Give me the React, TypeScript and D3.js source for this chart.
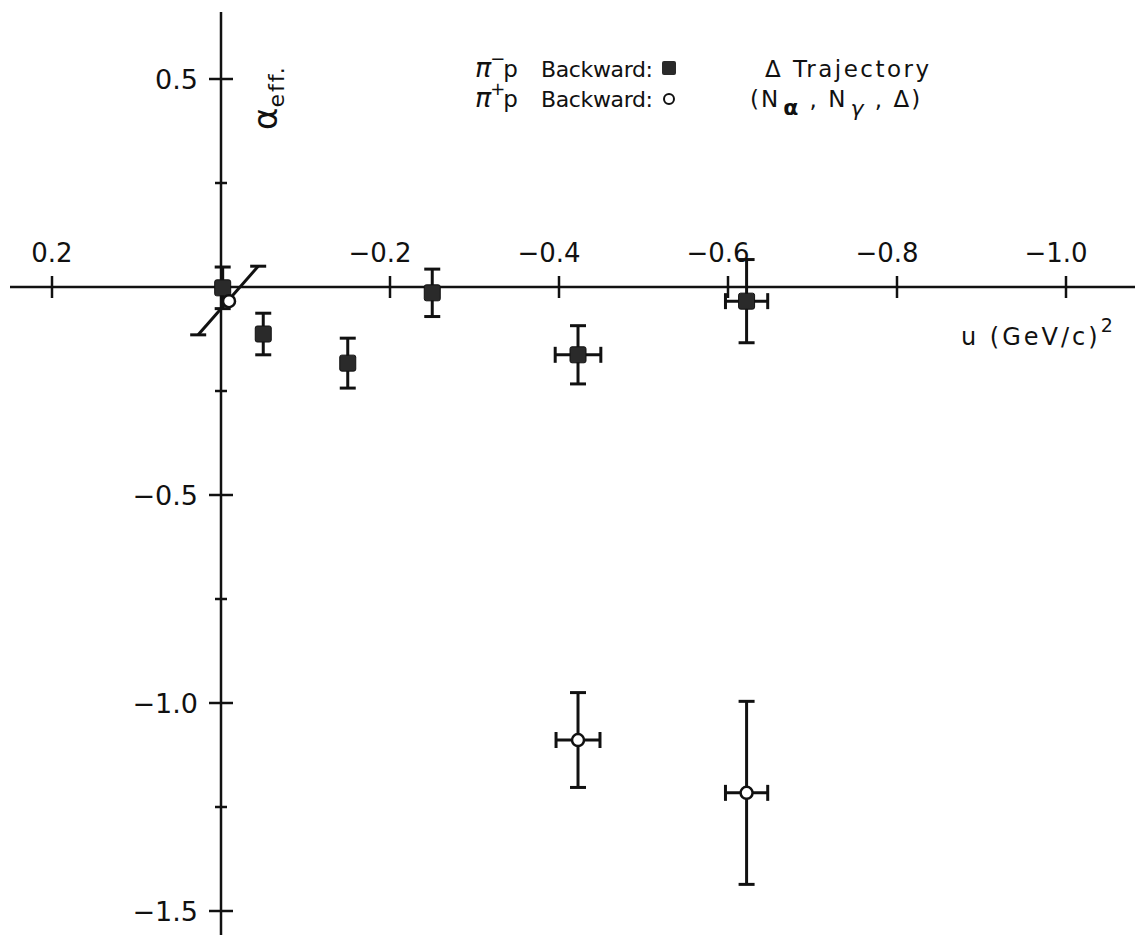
import { useEffect, useRef } from 'react'
import * as d3 from 'd3'

// u (GeV/c)^2 axis ticks and alpha_eff ticks
const uTicks = [0.2, -0.2, -0.4, -0.6, -0.8, -1.0]
const uTickLabels = ['0.2', '−0.2', '−0.4', '−0.6', '−0.8', '−1.0']
const alphaMajor = [0.5, -0.5, -1.0, -1.5]
const alphaMajorLabels = ['0.5', '−0.5', '−1.0', '−1.5']
const alphaMinor = [0.25, -0.25, -0.75, -1.25]

// pi- p backward (filled squares)
const piMinusU = [-0.002, -0.05, -0.15, -0.25, -0.4225, -0.622]
const piMinusAlpha = [-0.002, -0.113, -0.183, -0.014, -0.163, -0.034]
const piMinusErr = [0.05, 0.05, 0.06, 0.057, 0.07, 0.1]
const piMinusUErr = [0, 0, 0, 0, 0.027, 0.025]

// pi+ p backward (open circles)
const piPlusU = [-0.0095, -0.4225, -0.622]
const piPlusAlpha = [-0.034, -1.089, -1.216]
const piPlusErr = [0, 0.114, 0.22]
const piPlusUErr = [0, 0.026, 0.025]

// Delta trajectory segment
const deltaU = [0.027, -0.044]
const deltaAlpha = [-0.115, 0.05]

const FONT = "'DejaVu Sans', sans-serif"

export default function App() {
  const ref = useRef<SVGSVGElement | null>(null)

  useEffect(() => {
    if (!ref.current) return
    const width = 1135
    const svg = d3.select(ref.current)
    svg.selectAll('*').remove()

    const x = d3.scaleLinear().domain([0, -1]).range([221, 1066])
    const y = d3.scaleLinear().domain([0, -1]).range([287, 703])
    const ink = '#111'

    // axes
    svg.append('line').attr('x1', 10).attr('x2', width).attr('y1', y(0)).attr('y2', y(0))
      .attr('stroke', ink).attr('stroke-width', 2.5)
    svg.append('line').attr('x1', x(0)).attr('x2', x(0)).attr('y1', 12).attr('y2', 935)
      .attr('stroke', ink).attr('stroke-width', 2.5)

    // x ticks
    svg.append('g').selectAll('line').data(uTicks).join('line')
      .attr('x1', (d) => x(d)).attr('x2', (d) => x(d))
      .attr('y1', y(0) - 11).attr('y2', y(0) + 11)
      .attr('stroke', ink).attr('stroke-width', 2.5)
    svg.append('g').selectAll('text').data(uTicks).join('text')
      .attr('x', (d) => x(d) + (d < 0 ? -10 : 0))
      .attr('y', y(0) - 25)
      .attr('text-anchor', 'middle')
      .style('font-family', FONT).style('font-size', '26px').style('fill', ink)
      .text((d, i) => uTickLabels[i])

    // y ticks
    svg.append('g').selectAll('line').data(alphaMajor).join('line')
      .attr('x1', x(0) - 12).attr('x2', x(0) + 12)
      .attr('y1', (d) => y(d)).attr('y2', (d) => y(d))
      .attr('stroke', ink).attr('stroke-width', 2.5)
    svg.append('g').selectAll('line').data(alphaMinor).join('line')
      .attr('x1', x(0) - 6).attr('x2', x(0) + 6)
      .attr('y1', (d) => y(d)).attr('y2', (d) => y(d))
      .attr('stroke', ink).attr('stroke-width', 2.5)
    svg.append('g').selectAll('text').data(alphaMajor).join('text')
      .attr('x', x(0) - 23)
      .attr('y', (d) => y(d) + 10)
      .attr('text-anchor', 'end')
      .style('font-family', FONT).style('font-size', '27px').style('fill', ink)
      .text((d, i) => alphaMajorLabels[i])

    // axis titles
    const yt = svg.append('text')
      .attr('transform', 'translate(277,130) rotate(-90)')
      .style('font-family', FONT).style('fill', ink)
    yt.append('tspan').style('font-size', '34px').text('α')
    yt.append('tspan').attr('dy', 7).style('font-size', '22px').attr('letter-spacing', 2).text('eff.')

    const xt = svg.append('text').attr('x', 961).attr('y', 345)
      .style('font-family', FONT).style('font-size', '24px').style('fill', ink)
      .attr('letter-spacing', 3)
    xt.append('tspan').text('u (GeV/c)')
    xt.append('tspan').attr('dy', -13).style('font-size', '19px').text('2')

    const line = d3.line<number>().x((d) => x(deltaU[d])).y((d) => y(deltaAlpha[d]))
    svg.append('path').attr('d', line([0, 1])).attr('fill', 'none')
      .attr('stroke', ink).attr('stroke-width', 3)
    svg.append('g').selectAll('line').data([0, 1]).join('line')
      .attr('x1', (d) => x(deltaU[d]) - 8).attr('x2', (d) => x(deltaU[d]) + 8)
      .attr('y1', (d) => y(deltaAlpha[d])).attr('y2', (d) => y(deltaAlpha[d]))
      .attr('stroke', ink).attr('stroke-width', 3)

    // error bars
    const drawErrors = (us: number[], as: number[], ae: number[], ue: number[]) => {
      const g = svg.append('g').attr('stroke', ink).attr('stroke-width', 3)
      us.forEach((u, i) => {
        if (ae[i] > 0) {
          g.append('line').attr('x1', x(u)).attr('x2', x(u))
            .attr('y1', y(as[i] + ae[i])).attr('y2', y(as[i] - ae[i]))
          ;[as[i] + ae[i], as[i] - ae[i]].forEach((v) => {
            g.append('line').attr('x1', x(u) - 8).attr('x2', x(u) + 8).attr('y1', y(v)).attr('y2', y(v))
          })
        }
        if (ue[i] > 0) {
          g.append('line').attr('x1', x(u - ue[i])).attr('x2', x(u + ue[i]))
            .attr('y1', y(as[i])).attr('y2', y(as[i]))
          ;[u - ue[i], u + ue[i]].forEach((v) => {
            g.append('line').attr('x1', x(v)).attr('x2', x(v)).attr('y1', y(as[i]) - 8).attr('y2', y(as[i]) + 8)
          })
        }
      })
    }
    drawErrors(piMinusU, piMinusAlpha, piMinusErr, piMinusUErr)
    drawErrors(piPlusU, piPlusAlpha, piPlusErr, piPlusUErr)

    // markers
    svg.append('g').selectAll('rect').data(piMinusU).join('rect')
      .attr('x', (d) => x(d) - 8).attr('y', (d, i) => y(piMinusAlpha[i]) - 8)
      .attr('width', 16).attr('height', 16).attr('rx', 2)
      .attr('fill', '#2a2a2a').attr('stroke', ink).attr('stroke-width', 1)
    svg.append('g').selectAll('circle').data(piPlusU).join('circle')
      .attr('cx', (d) => x(d)).attr('cy', (d, i) => y(piPlusAlpha[i]))
      .attr('r', 6).attr('fill', '#fff').attr('stroke', ink).attr('stroke-width', 2.5)

    // legend
    const leg = svg.append('g').style('font-family', FONT).style('font-size', '23px').style('fill', ink)
    const rows = [
      { sign: '−', y: 77 },
      { sign: '+', y: 107 },
    ]
    rows.forEach((r) => {
      const t = leg.append('text').attr('x', 475).attr('y', r.y)
      t.append('tspan').style('font-style', 'italic').style('font-size', '27px').text('π')
      t.append('tspan').attr('dy', -12).attr('dx', -1).style('font-size', '18px').text(r.sign)
      t.append('tspan').attr('dy', 12).attr('dx', -2).text('p')
      leg.append('text').attr('x', 541).attr('y', r.y).style('font-size', '22px')
        .attr('textLength', 112).attr('lengthAdjust', 'spacing').text('Backward:')
    })
    leg.append('rect').attr('x', 662).attr('y', 61).attr('width', 14).attr('height', 14).attr('rx', 2)
      .attr('fill', '#2a2a2a')
    leg.append('circle').attr('cx', 669).attr('cy', 99).attr('r', 5)
      .attr('fill', '#fff').attr('stroke', ink).attr('stroke-width', 2)
    leg.append('text').attr('x', 765).attr('y', 77).attr('letter-spacing', 2.5).text('Δ  Trajectory')
    const nt = leg.append('text').attr('x', 750).attr('y', 107).attr('letter-spacing', 2)
    nt.append('tspan').text('(N')
    nt.append('tspan').attr('dy', 8).attr('dx', 3).style('font-size', '22px').style('font-weight', 'bold').text('α')
    nt.append('tspan').attr('dy', -8).text(' , N')
    nt.append('tspan').attr('dy', 9).attr('dx', 3).style('font-size', '22px').style('font-style', 'italic').text('γ')
    nt.append('tspan').attr('dy', -9).text(' , Δ)')
  }, [])

  return (
    <svg
      ref={ref}
      width={1135}
      height={947}
      style={{ position: 'absolute', left: 0, top: 0, background: '#fff' }}
    />
  )
}
